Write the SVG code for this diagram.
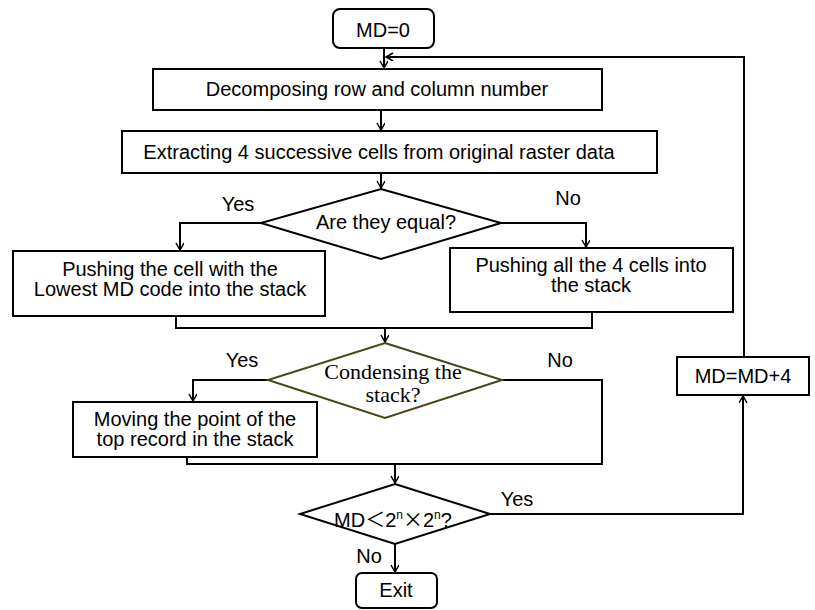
<svg xmlns="http://www.w3.org/2000/svg" width="815" height="610" viewBox="0 0 815 610">
<defs>
<style>
.box{fill:#fff;stroke:#000;stroke-width:2}
.dia{fill:#fff;stroke:#000;stroke-width:2}
.olive{stroke:#46461a}
.t{font-family:"Liberation Sans",Arial,sans-serif;font-size:20px;fill:#000;text-anchor:middle}
.s{font-family:"Liberation Serif","Times New Roman",serif;font-size:22px;fill:#000;text-anchor:middle}
.c{fill:none;stroke:#000;stroke-width:2}
</style>
<marker id="ah" markerWidth="10" markerHeight="10" refX="8" refY="4" orient="auto" markerUnits="userSpaceOnUse">
<path d="M1,0 L8,4 L1,8" fill="none" stroke="#000" stroke-width="1.5"/>
</marker>
</defs>
<rect width="815" height="610" fill="#fff"/>
<g id="connectors">
<path class="c" d="M384,48 V68" marker-end="url(#ah)"/>
<path class="c" d="M744,357 V57 H386" marker-end="url(#ah)"/>
<path class="c" d="M381,110 V130" marker-end="url(#ah)"/>
<path class="c" d="M381,173 V188" marker-end="url(#ah)"/>
<path class="c" d="M261,223 H180 V250" marker-end="url(#ah)"/>
<path class="c" d="M501,223 H586 V247" marker-end="url(#ah)"/>
<path class="c" d="M176,316 V328 H592 V312"/>
<path class="c" d="M385,328 V342" marker-end="url(#ah)"/>
<path class="c" d="M268,380 H193 V401" marker-end="url(#ah)"/>
<path class="c" d="M502,380 H602 V464 H187 V457"/>
<path class="c" d="M395,464 V483" marker-end="url(#ah)"/>
<path class="c" d="M490,514 H743 V396" marker-end="url(#ah)"/>
<path class="c" d="M395,544 V572" marker-end="url(#ah)"/>
</g>
<g id="start">
<rect class="box" x="333" y="9" width="101" height="39" rx="7"/>
<text class="t" x="383" y="37">MD=0</text>
</g>
<g id="decompose">
<rect class="box" x="153" y="69" width="449" height="41"/>
<text class="t" x="377" y="96">Decomposing row and column number</text>
</g>
<g id="extract">
<rect class="box" x="122" y="131" width="535" height="42"/>
<text class="t" x="379" y="159">Extracting 4 successive cells from original raster data</text>
</g>
<g id="equal">
<polygon class="dia" points="381,189 501,223 381,259 261,223"/>
<text class="t" x="386" y="229">Are they equal?</text>
</g>
<g id="push-lowest">
<rect class="box" x="13" y="251" width="312" height="65"/>
<text class="t" x="170" y="276">Pushing the cell with the</text>
<text class="t" x="170" y="296">Lowest MD code into the stack</text>
</g>
<g id="push-all">
<rect class="box" x="450" y="248" width="283" height="64"/>
<text class="t" x="591" y="272">Pushing all the 4 cells into</text>
<text class="t" x="591" y="292">the stack</text>
</g>
<g id="condense">
<polygon class="dia olive" points="385,343 502,380 385,418 268,380"/>
<text class="s" x="393" y="379">Condensing the</text>
<text class="s" x="393" y="402">stack?</text>
</g>
<g id="move-point">
<rect class="box" x="73" y="402" width="244" height="55"/>
<text class="t" x="195" y="426">Moving the point of the</text>
<text class="t" x="195" y="446">top record in the stack</text>
</g>
<g id="check">
<polygon class="dia" points="395,484 490,514 395,544 300,514"/>
<text class="t" x="393" y="527">MD<tspan font-family="'Noto Sans CJK SC',sans-serif">＜</tspan>2<tspan dy="-8" font-size="12">n</tspan><tspan dy="8" font-family="'Noto Sans CJK SC',sans-serif">×</tspan>2<tspan dy="-8" font-size="12">n</tspan><tspan dy="8">?</tspan></text>
</g>
<g id="increment">
<rect class="box" x="677" y="357" width="132" height="38"/>
<text class="t" x="743" y="383">MD=MD+4</text>
</g>
<g id="exit">
<rect class="box" x="356" y="573" width="81" height="35" rx="6"/>
<text class="t" x="396" y="597">Exit</text>
</g>
<g id="labels">
<text class="t" x="238" y="211">Yes</text>
<text class="t" x="568" y="205">No</text>
<text class="t" x="242" y="367">Yes</text>
<text class="t" x="560" y="367">No</text>
<text class="t" x="517" y="506">Yes</text>
<text class="t" x="369" y="563">No</text>
</g>
</svg>
